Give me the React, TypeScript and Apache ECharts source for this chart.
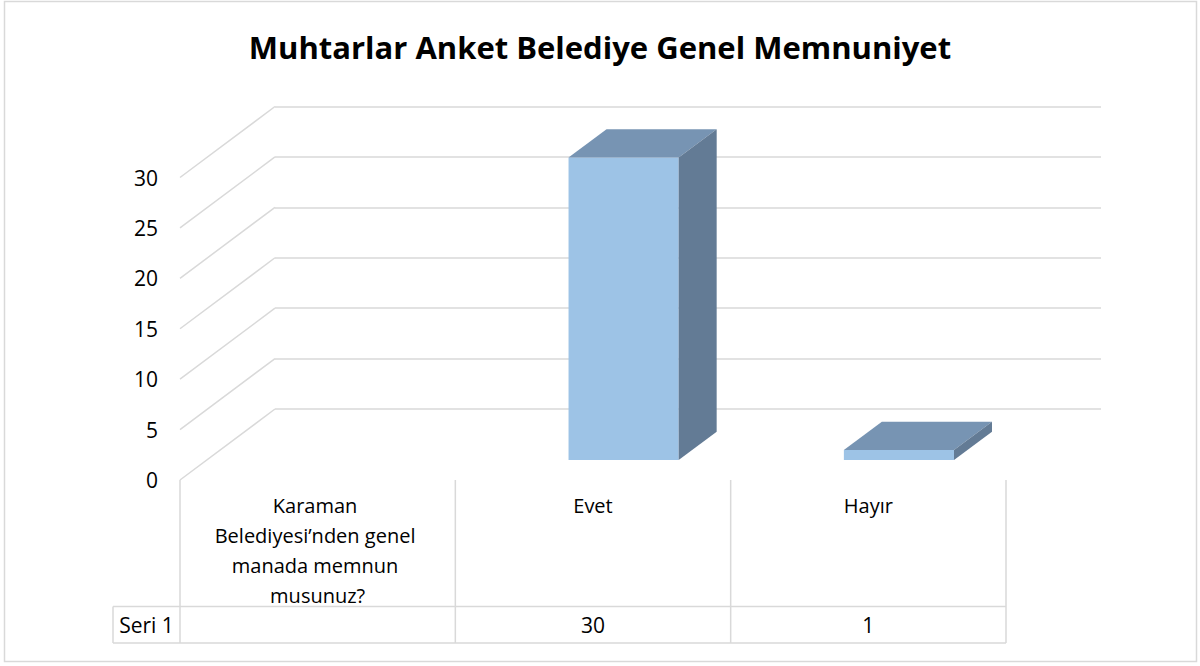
import React, { useEffect, useRef } from "react";
import * as echarts from "echarts";

const chartTitle = "Muhtarlar Anket Belediye Genel Memnuniyet";
const categories = ["Karaman Belediyesi’nden genel manada memnun musunuz?", "Evet", "Hayır"];
const seriesName = "Seri 1";
const values: (number | null)[] = [null, 30, 1];
const yTicks = [0, 5, 10, 15, 20, 25, 30];

const FONT = "'Open Sans', 'Noto Sans', sans-serif";
const FRONT_LEFT = 180;
const FRONT_TOP = 177.5;
const FRONT_HEIGHT = 302.5;
const FRONT_WIDTH = 826;
const DEPTH_X = 95;
const DEPTH_Y = -71;
const BAR_F1 = 0.28;
const BAR_DEPTH = 0.4;
const BAR_W = 0.4;
const BAR_SHIFT = 4;
const GRID_COLOR = "#D9D9D9";
const TABLE_TOP = 480;
const ROW_TOP = 606.5;
const ROW_BOTTOM = 643;
const TABLE_LEFT = 113;

export default function App() {
  const ref = useRef<HTMLDivElement>(null);
  useEffect(() => {
    if (!ref.current) return;
    const chart = echarts.init(ref.current, null, { renderer: "svg" });
    const colW = FRONT_WIDTH / categories.length;
    const right = FRONT_LEFT + FRONT_WIDTH;

    const graphics: any[] = [
      {
        type: "rect",
        shape: { x: 4.5, y: 1.5, width: 1192, height: 660 },
        style: { fill: "none", stroke: GRID_COLOR, lineWidth: 1.5 },
        silent: true,
      },
      { type: "line", shape: { x1: TABLE_LEFT, y1: ROW_TOP, x2: right, y2: ROW_TOP }, style: { stroke: GRID_COLOR, lineWidth: 1.5 } },
      { type: "line", shape: { x1: TABLE_LEFT, y1: ROW_BOTTOM, x2: right, y2: ROW_BOTTOM }, style: { stroke: GRID_COLOR, lineWidth: 1.5 } },
      { type: "line", shape: { x1: TABLE_LEFT, y1: ROW_TOP, x2: TABLE_LEFT, y2: ROW_BOTTOM }, style: { stroke: GRID_COLOR, lineWidth: 1.5 } },
      {
        type: "text",
        x: (TABLE_LEFT + FRONT_LEFT) / 2,
        y: (ROW_TOP + ROW_BOTTOM) / 2,
        style: { text: seriesName, fill: "#000", font: `21px ${FONT}`, align: "center", verticalAlign: "middle" },
      },
    ];
    for (let i = 0; i <= categories.length; i++) {
      const x = FRONT_LEFT + i * colW;
      graphics.push({
        type: "line",
        shape: { x1: x, y1: TABLE_TOP, x2: x, y2: ROW_BOTTOM },
        style: { stroke: GRID_COLOR, lineWidth: 1.5 },
      });
    }
    values.forEach((v, i) => {
      if (v == null) return;
      graphics.push({
        type: "text",
        x: FRONT_LEFT + (i + 0.5) * colW,
        y: (ROW_TOP + ROW_BOTTOM) / 2,
        style: { text: String(v), fill: "#000", font: `21px ${FONT}`, align: "center", verticalAlign: "middle" },
      });
    });

    const option: any = {
      animation: false,
      backgroundColor: "#fff",
      title: {
        text: chartTitle,
        left: "center",
        top: 26,
        textStyle: { fontFamily: FONT, fontSize: 31, fontWeight: "bold", color: "#000" },
      },
      grid: [
        {
          left: FRONT_LEFT + DEPTH_X,
          top: FRONT_TOP + DEPTH_Y,
          width: FRONT_WIDTH,
          height: FRONT_HEIGHT,
          outerBoundsMode: "none",
          containLabel: false,
        },
        {
          left: FRONT_LEFT,
          top: FRONT_TOP,
          width: FRONT_WIDTH,
          height: FRONT_HEIGHT,
          outerBoundsMode: "none",
          containLabel: false,
        },
      ],
      xAxis: [
        {
          gridIndex: 0,
          type: "category",
          data: categories,
          show: false,
        },
        {
          gridIndex: 1,
          type: "category",
          data: categories,
          axisLine: { show: false },
          axisTick: { show: false },
          splitLine: { show: false },
          axisLabel: {
            interval: 0,
            margin: 10,
            width: 225,
            overflow: "break",
            lineHeight: 30,
            fontSize: 20,
            fontFamily: FONT,
            color: "#000",
            align: "center",
          },
        },
      ],
      yAxis: [
        {
          gridIndex: 0,
          type: "value",
          min: 0,
          max: 30,
          interval: 5,
          axisLine: { show: false },
          axisTick: { show: false },
          axisLabel: { show: false },
          splitLine: { show: true, lineStyle: { color: GRID_COLOR, width: 1.5 } },
        },
        {
          gridIndex: 1,
          type: "value",
          min: 0,
          max: 30,
          interval: 5,
          axisLine: { show: false },
          axisTick: { show: false },
          splitLine: { show: false },
          axisLabel: { margin: 22, fontSize: 21, fontFamily: FONT, color: "#000" },
        },
      ],
      series: [
        {
          type: "custom",
          name: "depthLines",
          xAxisIndex: 1,
          yAxisIndex: 1,
          silent: true,
          data: yTicks.map((t) => [categories[0], t]),
          renderItem: (params: any, api: any) => {
            const y = api.coord([api.value(0), api.value(1)])[1];
            const x = params.coordSys.x;
            return {
              type: "line",
              shape: { x1: x, y1: y, x2: x + DEPTH_X, y2: y + DEPTH_Y },
              style: { stroke: GRID_COLOR, lineWidth: 1.5 },
            };
          },
        },
        {
          type: "custom",
          name: seriesName,
          xAxisIndex: 1,
          yAxisIndex: 1,
          data: values.map((v, i) => [categories[i], v == null ? "-" : v]),
          renderItem: (params: any, api: any) => {
            const v = api.value(1);
            if (v == null || isNaN(v)) return null;
            const base = api.coord([api.value(0), 0]);
            const top = api.coord([api.value(0), v]);
            const band = api.size([1, 0])[0];
            const w = band * BAR_W;
            const h = base[1] - top[1];
            const x0 = base[0] - w / 2 + DEPTH_X * BAR_F1 + BAR_SHIFT;
            const y0 = base[1] + DEPTH_Y * BAR_F1;
            const ddx = DEPTH_X * BAR_DEPTH;
            const ddy = DEPTH_Y * BAR_DEPTH;
            return {
              type: "group",
              children: [
                {
                  type: "rect",
                  shape: { x: x0, y: y0 - h, width: w, height: h },
                  style: { fill: "#9DC3E6" },
                },
                {
                  type: "polygon",
                  shape: {
                    points: [
                      [x0, y0 - h],
                      [x0 + w, y0 - h],
                      [x0 + w + ddx, y0 - h + ddy],
                      [x0 + ddx, y0 - h + ddy],
                    ],
                  },
                  style: { fill: "#7794B3" },
                },
                {
                  type: "polygon",
                  shape: {
                    points: [
                      [x0 + w, y0 - h],
                      [x0 + w, y0],
                      [x0 + w + ddx, y0 + ddy],
                      [x0 + w + ddx, y0 - h + ddy],
                    ],
                  },
                  style: { fill: "#637B95" },
                },
              ],
            };
          },
        },
      ],
      graphic: graphics,
    };
    chart.setOption(option);
    return () => chart.dispose();
  }, []);
  return (
    <div
      ref={ref}
      style={{ position: "fixed", left: 0, top: 0, width: 1200, height: 666, background: "#fff" }}
    />
  );
}
